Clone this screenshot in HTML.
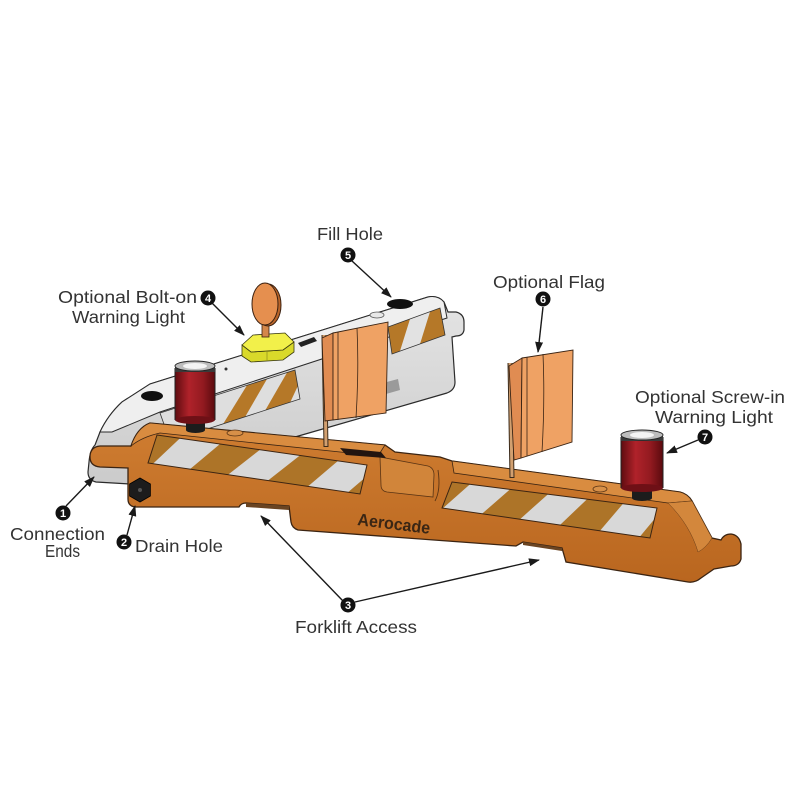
<!DOCTYPE html>
<html><head><meta charset="utf-8"><style>html,body{margin:0;padding:0;background:#fff}svg{display:block}</style></head>
<body>
<svg width="800" height="800" viewBox="0 0 800 800" xmlns="http://www.w3.org/2000/svg">
<defs>
 <linearGradient id="og" x1="0" y1="0" x2="0" y2="1">
  <stop offset="0" stop-color="#cf7d31"/><stop offset="1" stop-color="#b9661f"/>
 </linearGradient>
 <linearGradient id="red" x1="0" y1="0" x2="1" y2="0">
  <stop offset="0" stop-color="#5e0c10"/><stop offset="0.35" stop-color="#b0222a"/><stop offset="0.7" stop-color="#921a20"/><stop offset="1" stop-color="#5a0a0e"/>
 </linearGradient>
 <linearGradient id="wg" x1="0" y1="0" x2="0" y2="1"><stop offset="0" stop-color="#e4e4e4"/><stop offset="1" stop-color="#cbcbcb"/></linearGradient>
 <marker id="ah" markerWidth="11" markerHeight="8" refX="10" refY="4" orient="auto" markerUnits="userSpaceOnUse"><path d="M0,0 L11,4 L0,8 Z" fill="#1a1a1a"/></marker>
 <clipPath id="opL"><polygon points="157,435 367,465 360,494 148,463"/></clipPath>
 <clipPath id="opR"><polygon points="452,482 657,508 650,538 442,508"/></clipPath>
 <clipPath id="wpL"><polygon points="160,413 295,370 300,399 170,441"/></clipPath>
 <clipPath id="wpR"><polygon points="388,327 440,308 445,335 392,354"/></clipPath>
</defs>

<!-- WHITE BARRIER -->
<path d="M100,432 Q108,415 122,402 L150,384 L428,297 Q438,295 444,302 L448,312 L456,312 Q464,314 464,322 L464,330 Q463,336 456,336 L452,337 L455,382 Q455,390 447,393 L295,437 L200,465 L130,484 L96,482 Q88,480 88,472 L89,462 Q90,450 95,445 Z" fill="url(#wg)" stroke="#2b2b2b" stroke-width="1.2"/>
<path d="M100,432 Q108,415 122,402 L150,384 L428,297 Q438,295 444,302 L447,318 L160,412 L112,432 Z" fill="#efefef" stroke="#2b2b2b" stroke-width="1"/>
<polygon points="160,413 295,370 300,399 170,441" fill="#dedede"/>
<g clip-path="url(#wpL)" fill="#b57828">
 <polygon points="247,385.3 267,379 245,417.1 223,424.1"/>
 <polygon points="287,372.6 307,366.3 290,402.8 265,410.8"/>
</g>
<polygon points="160,413 295,370 300,399 170,441" fill="none" stroke="#333" stroke-width="0.8"/>
<polygon points="388,327 440,308 445,335 392,354" fill="#b57828"/>
<g clip-path="url(#wpR)"><polygon points="410,319 430,311.7 420,344 400,351" fill="#e2e2e2"/></g>
<polygon points="388,327 440,308 445,335 392,354" fill="none" stroke="#333" stroke-width="0.8"/>
<ellipse cx="400" cy="304" rx="13" ry="5" fill="#111"/>
<ellipse cx="377" cy="315" rx="7" ry="3" fill="#e8e8e8" stroke="#555" stroke-width="0.8"/>
<ellipse cx="152" cy="396" rx="11" ry="5" fill="#111"/>
<polygon points="298,343 314,337 317,341 301,347" fill="#222"/>
<circle cx="226" cy="369" r="1.5" fill="#333"/>
<path d="M383,383 L398,379 L400,390 L386,394 Z" fill="#9a9a9a"/>

<!-- YELLOW BOLT-ON LIGHT -->
<polygon points="242,345 251,352 283,350 294,342 294,352 283,360 251,362 242,356" fill="#d9d92a" stroke="#3a3a10" stroke-width="0.8"/>
<polygon points="242,345 253,335 285,333 294,342 283,350 251,352" fill="#f2f04a" stroke="#3a3a10" stroke-width="0.8"/>
<line x1="267" y1="351" x2="267" y2="361" stroke="#8a8a20" stroke-width="0.7"/>
<rect x="262" y="321" width="7" height="16" fill="#d4874a" stroke="#3a2010" stroke-width="0.8"/>
<ellipse cx="268" cy="305" rx="13" ry="21" fill="#b9652a" stroke="#3a2010" stroke-width="1"/>
<ellipse cx="265" cy="304" rx="13" ry="21" fill="#e58f4f" stroke="#3a2010" stroke-width="1"/>

<!-- ORANGE BARRIER -->
<path d="M150,423 L385,445 L395,452 L440,457 L452,461 L680,492 Q688,494 692,501 L712,538 L721,540 Q724,534 731,534 Q739,535 741,544 L741,559 Q739,566 731,566 L714,569 L701,578 Q695,583 688,582 L566,562 L562,548 L523,542 L516,546 L298,530 Q292,528 291,522 L289,506 L246,503 Q241,503 239,507 L135,507 Q128,506 128,499 L128,468 L100,467 Q90,466 90,457 Q90,447 100,446 L131,446 Q137,428 150,423 Z" fill="url(#og)" stroke="#3b2412" stroke-width="1.3"/>
<path d="M150,423 L385,445 L378,456 L160,433 Q142,437 131,446 Q137,428 150,423 Z" fill="#d98c40" stroke="#3b2412" stroke-width="0.8"/>
<path d="M452,461 L680,492 Q688,494 692,501 L668,503 L454,473 Z" fill="#d98c40" stroke="#3b2412" stroke-width="0.8"/>
<path d="M668,503 L692,501 L712,538 Q706,548 698,552 Q690,525 668,503 Z" fill="#d3873c" stroke="#6a3e18" stroke-width="0.5"/>
<polygon points="246,503 289,506 289,510 246,507" fill="#6a4422"/>
<polygon points="523,542 562,548 562,551 523,545" fill="#6a4422"/>
<path d="M380,457 L428,466 Q434,468 434,475 L433,497 L387,492 Q381,491 381,485 Z" fill="#d1853a" stroke="#5a3414" stroke-width="0.8"/>
<polygon points="340,448 381,452 386,458 346,455" fill="#231510"/>
<path d="M438,470 Q441,490 435,501" stroke="#5a3414" stroke-width="0.9" fill="none"/>
<polygon points="157,435 367,465 360,494 148,463" fill="#ad7428"/>
<g clip-path="url(#opL)" fill="#d8d8d8">
 <polygon points="180,438.3 220,444 190,469.1 153,463.7"/>
 <polygon points="260,449.7 300,455.4 268,480.5 228,474.7"/>
 <polygon points="338,460.9 378,466.6 348,492.2 308,486.4"/>
</g>
<polygon points="157,435 367,465 360,494 148,463" fill="none" stroke="#3b2412" stroke-width="1"/>
<polygon points="452,482 657,508 650,538 442,508" fill="#ad7428"/>
<g clip-path="url(#opR)" fill="#d8d8d8">
 <polygon points="470,484.3 510,489.4 482,513.8 443,508.1"/>
 <polygon points="548,494.2 587,499.2 560,525 520,519.2"/>
 <polygon points="623,503.7 663,508.8 640,536.5 600,530.8"/>
</g>
<polygon points="452,482 657,508 650,538 442,508" fill="none" stroke="#3b2412" stroke-width="1"/>
<ellipse cx="235" cy="433" rx="8" ry="3" fill="#d89048" stroke="#5a3414" stroke-width="0.8"/>
<ellipse cx="600" cy="489" rx="7" ry="3" fill="#d89048" stroke="#5a3414" stroke-width="0.8"/>
<polygon points="150.4,484 150.4,496 140,502 129.6,496 129.6,484 140,478" fill="#1c1c1c" stroke="#000" stroke-width="0.8"/>
<circle cx="140" cy="490" r="2" fill="#555"/>
<text x="357" y="525" transform="rotate(7 357 525)" font-family="Liberation Sans, sans-serif" font-weight="bold" font-size="17" fill="#3a2614" textLength="73" lengthAdjust="spacingAndGlyphs">Aerocade</text>

<!-- RED LIGHT 1 -->
<rect x="186" y="420" width="19" height="10" fill="#1c1c1c"/>
<ellipse cx="195.5" cy="430" rx="9.5" ry="3" fill="#1c1c1c"/>
<rect x="175" y="368" width="40" height="52" fill="url(#red)"/>
<ellipse cx="195" cy="420" rx="20" ry="4" fill="#6e1016"/>
<path d="M175,368 L175,420 M215,368 L215,420" stroke="#222" stroke-width="1"/>
<rect x="175" y="366" width="40" height="6" fill="#3a3a3a"/>
<ellipse cx="195" cy="366" rx="20" ry="5" fill="#bdbdbd" stroke="#222" stroke-width="0.9"/>
<ellipse cx="195" cy="366" rx="12" ry="3" fill="#f4f4f4"/>

<!-- RED LIGHT 2 -->
<rect x="632" y="488" width="20" height="10" fill="#1c1c1c"/>
<ellipse cx="642" cy="498" rx="10" ry="3" fill="#1c1c1c"/>
<rect x="621" y="437" width="42" height="51" fill="url(#red)"/>
<ellipse cx="642" cy="488" rx="21" ry="4" fill="#6e1016"/>
<path d="M621,437 L621,488 M663,437 L663,488" stroke="#222" stroke-width="1"/>
<rect x="621" y="435" width="42" height="6" fill="#3a3a3a"/>
<ellipse cx="642" cy="435" rx="21" ry="5" fill="#bdbdbd" stroke="#222" stroke-width="0.9"/>
<ellipse cx="642" cy="435" rx="12" ry="3" fill="#f4f4f4"/>

<!-- FLAG 1 -->
<line x1="324" y1="335" x2="326" y2="447" stroke="#3a2a1a" stroke-width="5"/>
<line x1="324" y1="335" x2="326" y2="446" stroke="#d2a070" stroke-width="3"/>
<path d="M322,338 L333,333 L333,420 L325,421 Z" fill="#e08c52" stroke="#3a2414" stroke-width="0.9"/>
<path d="M333,333 L388,322 L386,413 L333,420 Z" fill="#efa264" stroke="#3a2414" stroke-width="0.9"/>
<path d="M338,332 L338,420 M357,328 Q359,370 356,418" stroke="#3a2414" stroke-width="0.8" fill="none"/>

<!-- FLAG 2 -->
<line x1="510" y1="363" x2="512" y2="478" stroke="#3a2a1a" stroke-width="5"/>
<line x1="510" y1="363" x2="512" y2="477" stroke="#d2a070" stroke-width="3"/>
<path d="M509,366 L522,358 L521,458 L514,460 Z" fill="#e08c52" stroke="#3a2414" stroke-width="0.9"/>
<path d="M522,358 L573,350 L572,442 L521,458 Z" fill="#efa264" stroke="#3a2414" stroke-width="0.9"/>
<path d="M527,357 L527,456 M543,354 Q545,400 542,452" stroke="#3a2414" stroke-width="0.8" fill="none"/>

<!-- ARROWS -->
<g stroke="#1a1a1a" stroke-width="1.4" fill="none" marker-end="url(#ah)">
 <line x1="352" y1="261" x2="391" y2="297"/>
 <line x1="212" y1="303" x2="244" y2="335"/>
 <line x1="543" y1="307" x2="538" y2="352"/>
 <line x1="698" y1="440" x2="667" y2="453"/>
 <line x1="66" y1="506" x2="94" y2="477"/>
 <line x1="127" y1="535" x2="135" y2="506"/>
 <line x1="343" y1="601" x2="261" y2="516"/>
 <line x1="355" y1="602" x2="539" y2="560"/>
</g>

<!-- BADGES -->
<g font-family="Liberation Sans, sans-serif" font-weight="bold" font-size="11" fill="#fff" text-anchor="middle">
 <circle cx="348" cy="255" r="7.5" fill="#111"/><text x="348" y="259">5</text>
 <circle cx="208" cy="298" r="7.5" fill="#111"/><text x="208" y="302">4</text>
 <circle cx="543" cy="299" r="7.5" fill="#111"/><text x="543" y="303">6</text>
 <circle cx="705" cy="437" r="7.5" fill="#111"/><text x="705" y="441">7</text>
 <circle cx="63" cy="513" r="7.5" fill="#111"/><text x="63" y="517">1</text>
 <circle cx="124" cy="542" r="7.5" fill="#111"/><text x="124" y="546">2</text>
 <circle cx="348" cy="605" r="7.5" fill="#111"/><text x="348" y="609">3</text>
</g>

<!-- LABELS -->
<g font-family="Liberation Sans, sans-serif" font-size="17.5" fill="#333">
 <text x="317" y="240" textLength="66" lengthAdjust="spacingAndGlyphs">Fill Hole</text>
 <text x="58" y="303" textLength="139" lengthAdjust="spacingAndGlyphs">Optional Bolt-on</text>
 <text x="72" y="323" textLength="113" lengthAdjust="spacingAndGlyphs">Warning Light</text>
 <text x="493" y="288" textLength="112" lengthAdjust="spacingAndGlyphs">Optional Flag</text>
 <text x="635" y="403" textLength="150" lengthAdjust="spacingAndGlyphs">Optional Screw-in</text>
 <text x="655" y="423" textLength="118" lengthAdjust="spacingAndGlyphs">Warning Light</text>
 <text x="10" y="540" textLength="95" lengthAdjust="spacingAndGlyphs">Connection</text>
 <text x="45" y="557" textLength="35" lengthAdjust="spacingAndGlyphs">Ends</text>
 <text x="135" y="552" textLength="88" lengthAdjust="spacingAndGlyphs">Drain Hole</text>
 <text x="295" y="633" textLength="122" lengthAdjust="spacingAndGlyphs">Forklift Access</text>
</g>
</svg>
</body></html>
